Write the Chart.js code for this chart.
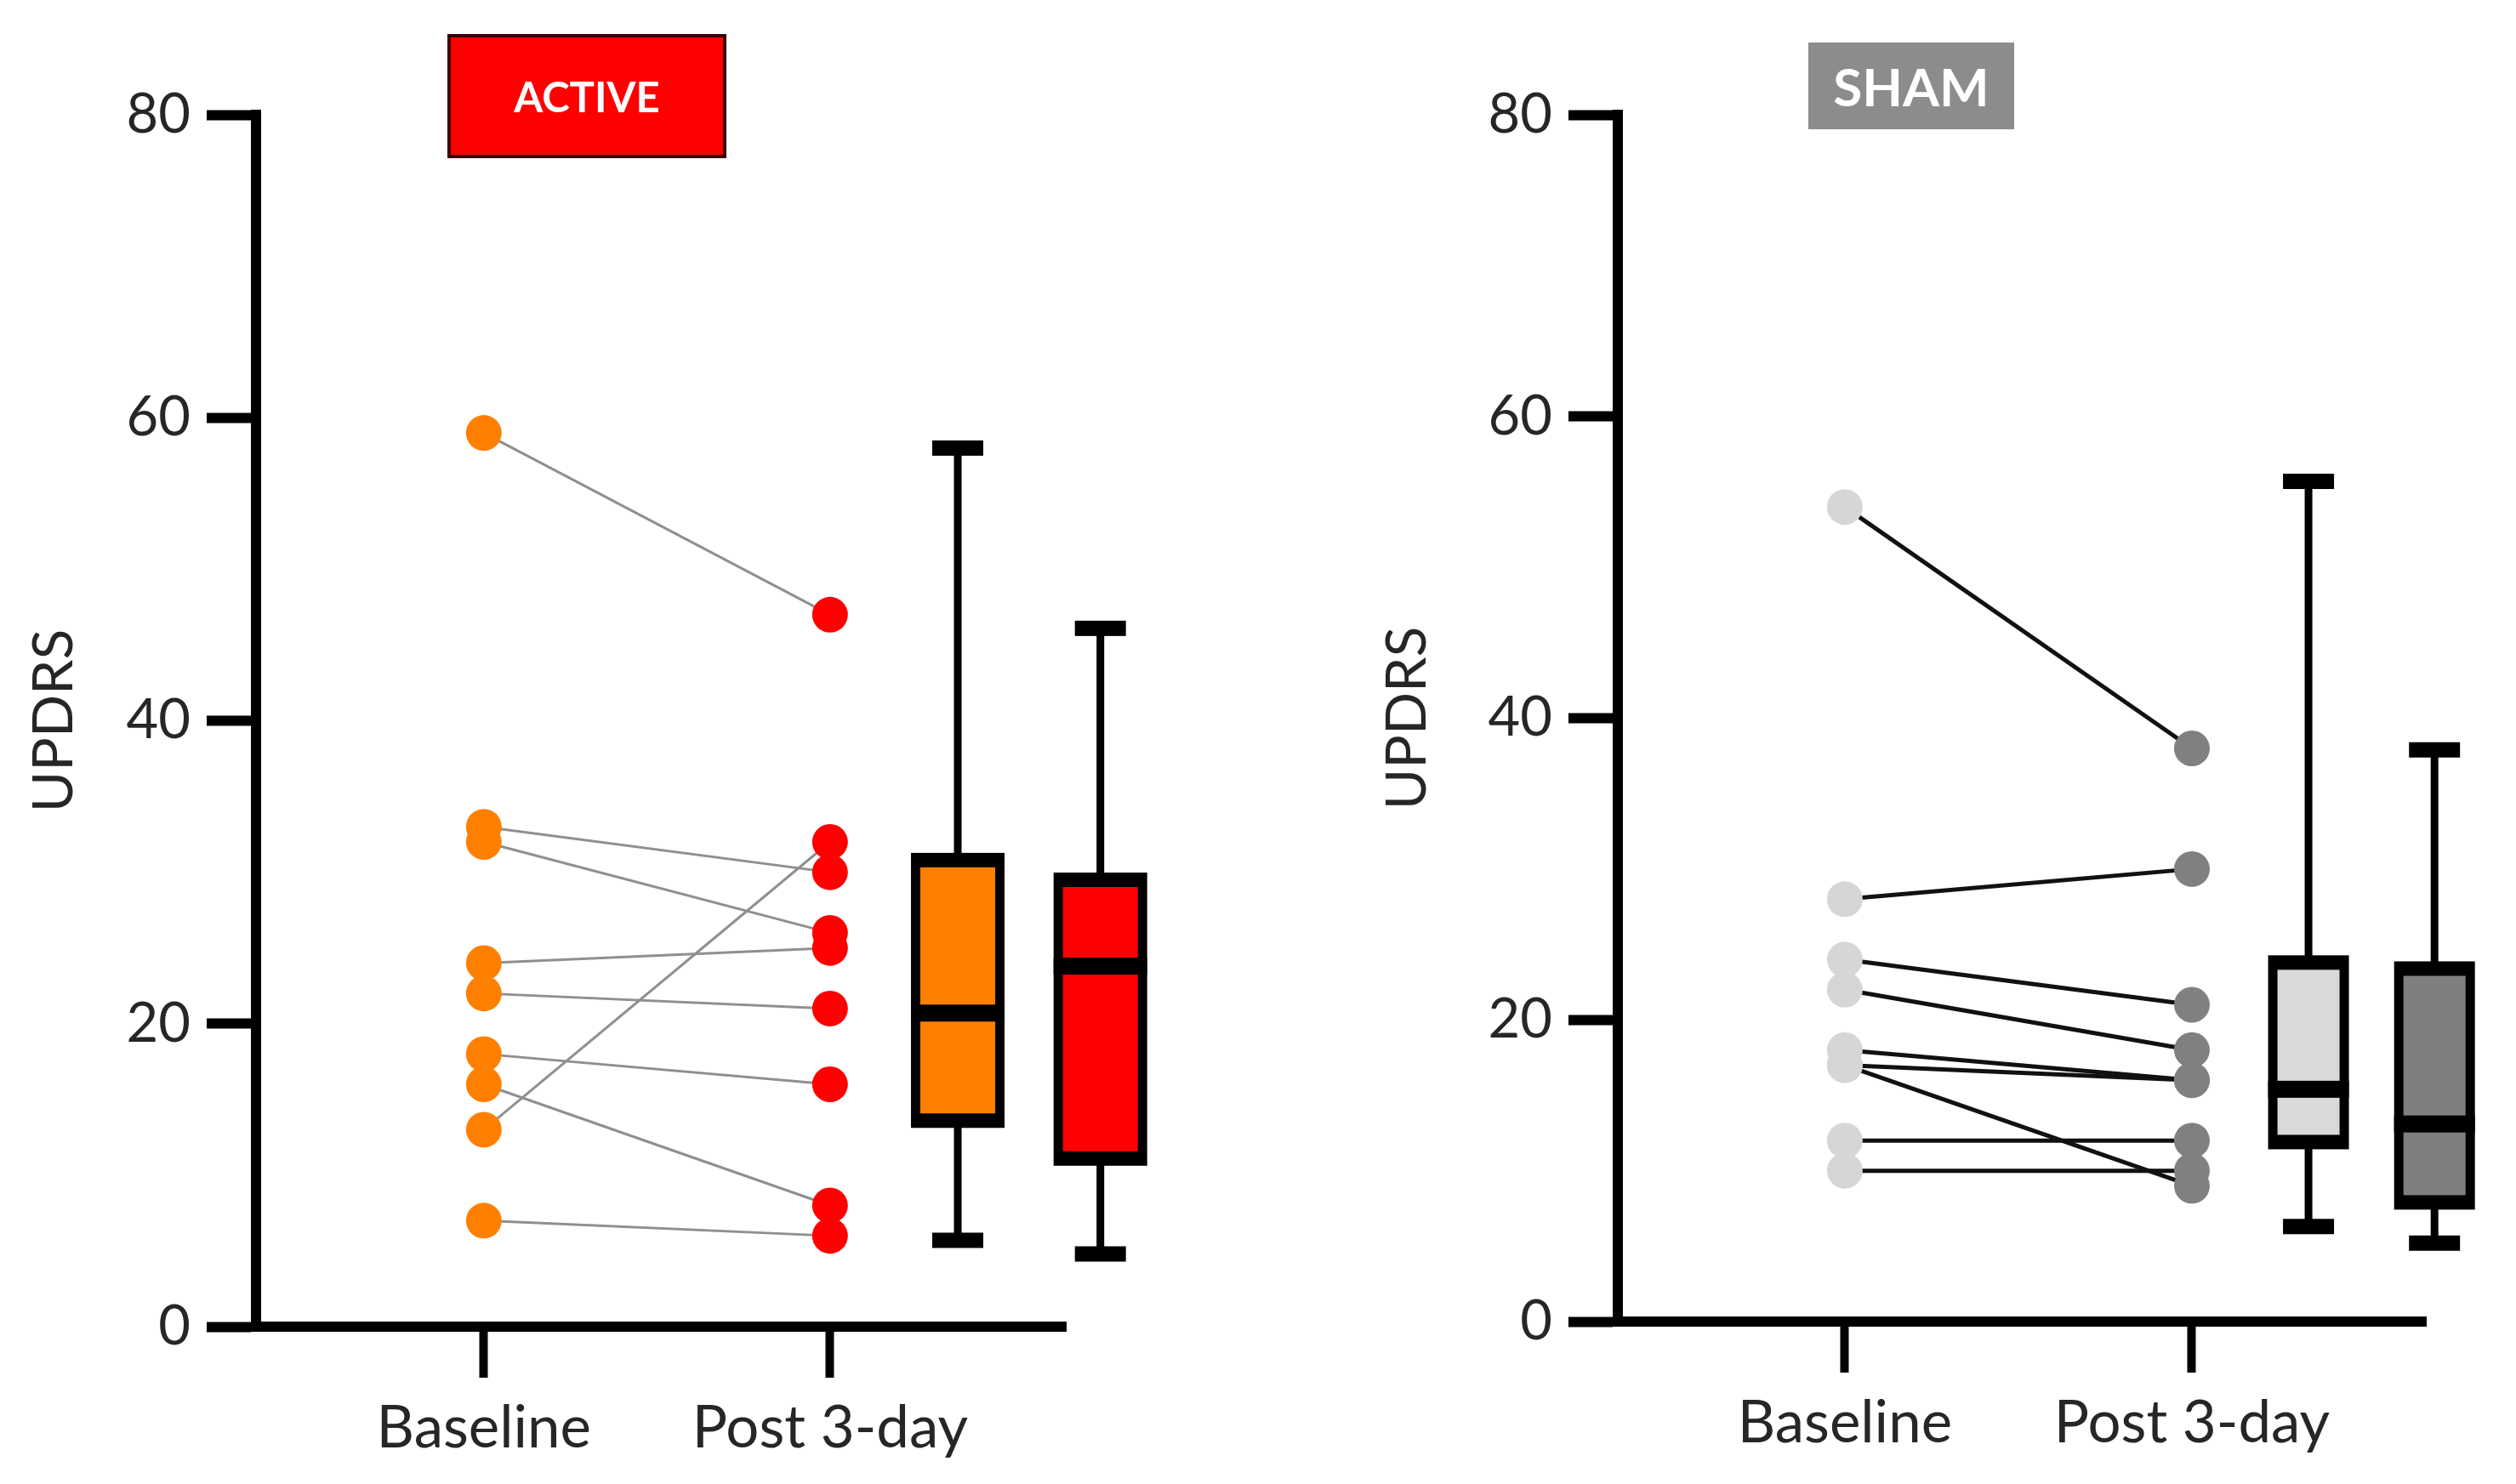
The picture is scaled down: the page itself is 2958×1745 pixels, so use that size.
<!DOCTYPE html>
<html>
<head>
<meta charset="utf-8">
<script src="https://cdn.jsdelivr.net/npm/chart.js@4.4.1/dist/chart.umd.min.js"></script>
<style>
  html, body { margin: 0; padding: 0; background: #fff; }
  #page { position: relative; width: 2958px; height: 1745px; overflow: hidden; }
  canvas { position: absolute; top: 0; }
  .tag { position: absolute; color: #fff; font-family: Lato, sans-serif; font-weight: 700;
         display: flex; align-items: center; justify-content: center; box-sizing: border-box; }
  #tag-active { left: 526px; top: 40px; width: 328px; height: 146px; background: #ff0000;
                border: 4px solid #3a0000; font-size: 49px; }
  #tag-sham { left: 2126px; top: 50px; width: 242px; height: 102px; background: #8c8c8c; font-size: 62px; }
</style>
</head>
<body>
<div id="page">
  <canvas id="activeChart" width="1479" height="1745" style="left:0"></canvas>
  <canvas id="shamChart" width="1479" height="1745" style="left:1479px"></canvas>
  <div class="tag" id="tag-active">ACTIVE</div>
  <div class="tag" id="tag-sham">SHAM</div>
</div>
<script>
const categories = ['Baseline', 'Post 3-day'];
const yTicks = [0, 20, 40, 60, 80];

// paired subjects, same index = same subject
const activeBaseline = [59, 33, 32, 24, 22, 18, 16, 13, 7];
const activePost     = [47, 30, 26, 25, 21, 16, 8, 32, 6];
const shamBaseline   = [54, 28, 24, 22, 18, 17, 17, 12, 10];
const shamPost       = [38, 30, 21, 18, 16, 16, 9, 12, 10];

// box summaries: min, q1, median, q3, max
const activeBoxBaseline = [5.7, 13.6, 20.7, 30.8, 58];
const activeBoxPost     = [4.8, 11.1, 23.8, 29.5, 46.1];
const shamBoxBaseline   = [6.3, 11.9, 15.4, 23.8, 55.7];
const shamBoxPost       = [5.2, 7.9, 13.1, 23.4, 37.9];

// draws the box & whisker plots next to the paired points
const boxPlugin = {
    id: 'boxes',
    afterDatasetsDraw(chart, args, opts) {
        const ctx = chart.ctx;
        const x = chart.scales.x, y = chart.scales.y;
        ctx.save();
        opts.items.forEach(b => {
            const [min, q1, med, q3, max] = b.stats;
            const cx = x.getPixelForValue(b.pos);
            const yMin = y.getPixelForValue(min), yQ1 = y.getPixelForValue(q1);
            const yMed = y.getPixelForValue(med), yQ3 = y.getPixelForValue(q3);
            const yMax = y.getPixelForValue(max);
            const side = 11, edge = 17;   // border thickness: sides / top & bottom
            const half = b.width / 2;

            ctx.strokeStyle = '#000';
            ctx.fillStyle = '#000';
            ctx.lineWidth = 9;
            ctx.beginPath();
            ctx.moveTo(cx, yMax); ctx.lineTo(cx, yQ3);
            ctx.moveTo(cx, yQ1); ctx.lineTo(cx, yMin);
            ctx.stroke();
            ctx.fillRect(cx - 30, yMax - 9, 60, 18);
            ctx.fillRect(cx - 30, yMin - 9, 60, 18);

            // outer black box, coloured inside, thick median bar
            ctx.fillRect(cx - half, yQ3 - edge / 2, b.width, yQ1 - yQ3 + edge);
            ctx.fillStyle = b.color;
            ctx.fillRect(cx - half + side, yQ3 + edge / 2, b.width - 2 * side, yQ1 - yQ3 - edge);
            ctx.fillStyle = '#000';
            ctx.fillRect(cx - half, yMed - 10, b.width, 20);
        });
        ctx.restore();
    }
};

function makeChart(id, base, post, cfg) {
    const datasets = [];
    datasets.push({
        data: base.map(v => ({ x: 0, y: v })),
        showLine: false, pointRadius: 21, pointBorderWidth: 0,
        pointBackgroundColor: cfg.baseColor, order: 0
    });
    datasets.push({
        data: post.map(v => ({ x: 1, y: v })),
        showLine: false, pointRadius: 21, pointBorderWidth: 0,
        pointBackgroundColor: cfg.postColor, order: 0
    });
    base.forEach((b, i) => {
        datasets.push({
            data: [{ x: 0, y: b }, { x: 1, y: post[i] }],
            showLine: true, borderColor: cfg.lineColor, borderWidth: cfg.lineWidth,
            pointRadius: 0, order: 1
        });
    });

    new Chart(document.getElementById(id), {
        type: 'scatter',
        data: { datasets: datasets },
        options: {
            responsive: false,
            animation: false,
            events: [],
            layout: { padding: { left: cfg.padLeft, top: 135, right: cfg.padRight, bottom: 0 } },
            plugins: {
                legend: { display: false },
                tooltip: { enabled: false },
                boxes: { items: cfg.boxes }
            },
            scales: {
                x: {
                    type: 'linear', min: cfg.xMin, max: cfg.xMax,
                    afterFit: s => { s.height = cfg.xAxisHeight; },
                    afterBuildTicks: s => { s.ticks = categories.map((c, i) => ({ value: i })); },
                    ticks: {
                        callback: v => categories[v],
                        font: { family: 'Lato', size: 69 }, color: '#262626',
                        padding: 18, maxRotation: 0, autoSkip: false
                    },
                    grid: { drawOnChartArea: false, tickLength: 60, tickWidth: 10, tickColor: '#000' },
                    border: { color: '#000', width: 12 }
                },
                y: {
                    min: 0, max: 80,
                    afterFit: s => { s.width = cfg.yAxisWidth; },
                    afterBuildTicks: s => { s.ticks = yTicks.map(v => ({ value: v })); },
                    ticks: { font: { family: 'Lato', size: 65 }, color: '#262626', padding: 19 },
                    grid: { drawOnChartArea: false, tickLength: 58, tickWidth: 12, tickColor: '#000' },
                    border: { color: '#000', width: 12 },
                    title: {
                        display: true, text: 'UPDRS', color: '#262626',
                        font: { family: 'Lato', size: 66 }, padding: { top: 24, bottom: 0 }
                    }
                }
            }
        },
        plugins: [boxPlugin]
    });
}

function drawAll() {
    makeChart('activeChart', activeBaseline, activePost, {
        baseColor: '#ff8000', postColor: '#ff0000', lineColor: '#8f8f8f', lineWidth: 3,
        padLeft: 0, padRight: 226, yAxisWidth: 301, xAxisHeight: 185,
        xMin: -0.658, xMax: 1.681,
        boxes: [
            { pos: 1.369, width: 110, color: '#ff8000', stats: activeBoxBaseline },
            { pos: 1.781, width: 110, color: '#ff0000', stats: activeBoxPost }
        ]
    });
    makeChart('shamChart', shamBaseline, shamPost, {
        baseColor: '#d6d6d6', postColor: '#808080', lineColor: '#111', lineWidth: 5,
        padLeft: 112, padRight: 106, yAxisWidth: 311, xAxisHeight: 191,
        xMin: -0.654, xMax: 1.674,
        boxes: [
            { pos: 1.336, width: 95, color: '#d9d9d9', stats: shamBoxBaseline },
            { pos: 1.699, width: 95, color: '#7f7f7f', stats: shamBoxPost }
        ]
    });
}

if (document.fonts && document.fonts.load) {
    Promise.all([document.fonts.load('65px Lato'), document.fonts.load('bold 49px Lato')])
        .then(drawAll, drawAll);
} else {
    drawAll();
}
</script>
</body>
</html>
